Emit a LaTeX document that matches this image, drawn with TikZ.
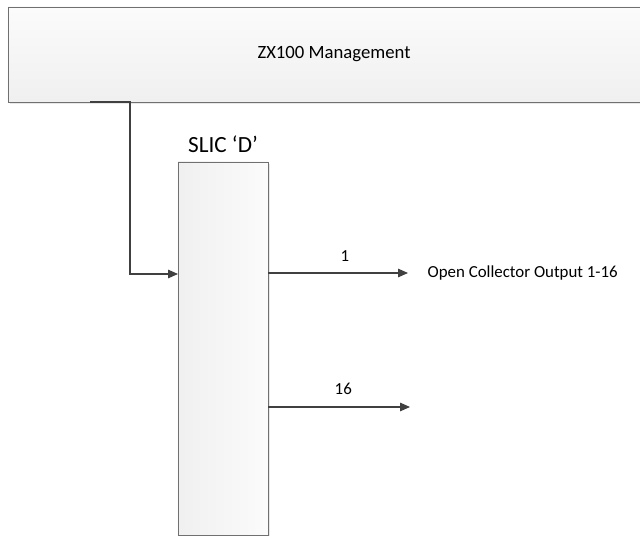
\documentclass[tikz,border=0pt]{standalone}
\usepackage{fontspec}
\setmainfont{Carlito}
\usetikzlibrary{arrows.meta,positioning,shadows}
\definecolor{edgegray}{HTML}{707070}
\definecolor{linegray}{HTML}{404040}
\tikzset{
mgmt/.style={
  rectangle,
  draw=edgegray,
  top color=gray!3,
  bottom color=gray!12,
  minimum width=16.3cm,
  minimum height=2.375cm,
  font=\fontsize{13.3}{15}\selectfont,
  drop shadow={shadow xshift=1.5pt, shadow yshift=-1.5pt, fill=gray!30, opacity=0.6}},
slic/.style={
  rectangle,
  draw=edgegray,
  left color=gray!12,
  right color=gray!3,
  minimum width=2.25cm,
  minimum height=9.325cm,
  drop shadow={shadow xshift=1.5pt, shadow yshift=-1.5pt, fill=gray!30, opacity=0.6}},
line/.style={draw=linegray, line width=0.9pt, -{Triangle[length=7pt, width=6pt]}},
lbl/.style={font=\fontsize{12}{14}\selectfont, inner sep=1pt}
}
\begin{document}
\begin{tikzpicture}[x=0.025cm, y=-0.025cm]
    \useasboundingbox (0,0) rectangle (640,536);
    \node [mgmt] (mgmt) at (334,54.5) {ZX100 Management};
    \node [slic] (slic) at (223,348.5) {};
    \node [above=6.5pt of slic.north, font=\fontsize{16.5}{18}\selectfont, inner sep=0pt] (slictitle) {SLIC ‘D’};
    % input from management
    \coordinate (tap) at (90,102);
    \coordinate (in1) at (178,274);
    \path [line] (tap) -- ++(40,0) |- (in1);
    % outputs
    \coordinate (out1) at (268,273);
    \coordinate (out16) at (268,407);
    \coordinate (end1) at (408,273);
    \coordinate (end16) at (410,407);
    \path [line] (out1) -- node [lbl, above=6.5pt, pos=0.55] (n1) {1} (end1);
    \path [line] (out16) -- node [lbl, above=7pt, pos=0.53] (n16) {16} (end16);
    \node [lbl, anchor=west] (oc) at (426,273) {Open Collector Output 1-16};
\end{tikzpicture}
\end{document}
